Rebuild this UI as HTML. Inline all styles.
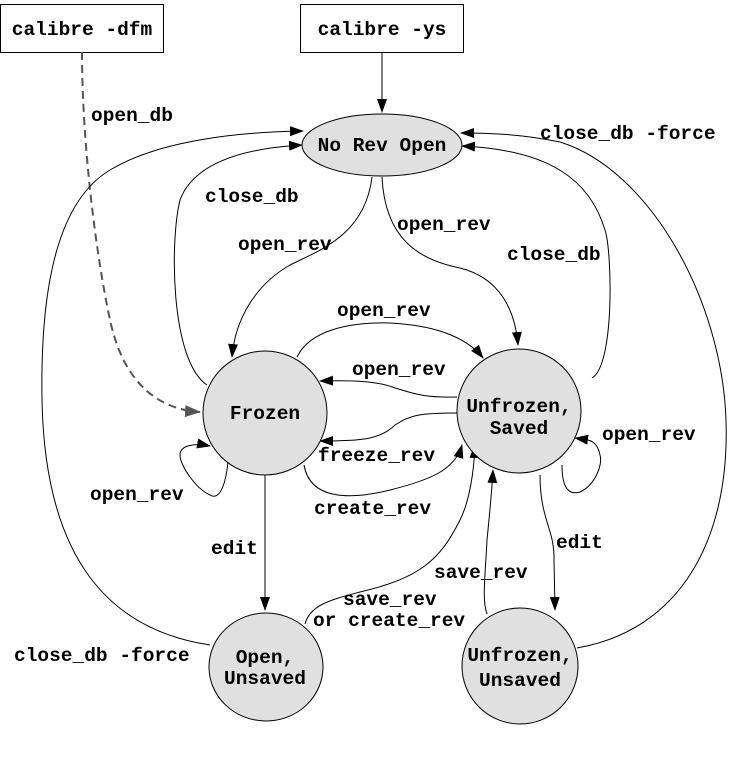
<!DOCTYPE html>
<html><head><meta charset="utf-8"><style>
html,body{margin:0;padding:0;background:#fff;}
svg text{font-family:"Liberation Mono",monospace;font-weight:bold;font-size:19.5px;fill:#000;}
</style></head><body>
<svg width="741" height="759" viewBox="0 0 741 759" xmlns="http://www.w3.org/2000/svg">
<defs>
<marker id="a" markerWidth="14" markerHeight="10" refX="13" refY="5" orient="auto" markerUnits="userSpaceOnUse"><path d="M0,0 L14,5 L0,10 z" fill="#000"/></marker>
<marker id="g" markerWidth="16" markerHeight="12" refX="15" refY="6" orient="auto" markerUnits="userSpaceOnUse"><path d="M0,0 L16,6 L0,12 z" fill="#555"/></marker>
</defs>
<g fill="none" stroke="#000" stroke-width="1">
<rect x="0.5" y="4.5" width="163" height="48"/>
<rect x="300.5" y="4.5" width="163" height="48"/>
<path d="M382,52 L382,112" marker-end="url(#a)"/>
<path d="M82,52 C82,140 95,250 110,320 C125,390 165,410 200,412" stroke="#555" stroke-width="2" stroke-dasharray="8,5" marker-end="url(#g)"/>
<path d="M372,177 C365,235 320,250 290,265 C255,285 235,320 232,357" marker-end="url(#a)"/>
<path d="M382,177 C385,240 420,260 460,268 C500,278 515,310 518,345" marker-end="url(#a)"/>
<path d="M207,385 C170,360 170,240 180,200 C195,160 250,148 302,145" marker-end="url(#a)"/>
<path d="M592,378 C615,365 612,250 605,230 C590,180 550,150 462,146" marker-end="url(#a)"/>
<path d="M210,645 C110,630 45,560 42,400 C40,280 60,200 110,170 C160,140 240,132 303,131" marker-end="url(#a)"/>
<path d="M577,648 C680,630 730,540 726,420 C722,300 650,170 560,142 C520,134 490,133 461,133" marker-end="url(#a)"/>
<path d="M297,357 C310,330 350,322 390,323 C430,325 465,335 483,358" marker-end="url(#a)"/>
<path d="M457,397 C420,398 410,392 395,388 C380,382 360,380 320,381" marker-end="url(#a)"/>
<path d="M457,413 C420,413 410,415 395,425 C380,440 360,441 320,441" marker-end="url(#a)"/>
<path d="M304,465 C310,500 350,500 390,490 C430,480 455,470 462,445" marker-end="url(#a)"/>
<path d="M228,462 C225,490 218,500 210,495 C195,488 180,465 180,455 C180,445 195,443 210,446" marker-end="url(#a)"/>
<path d="M562,465 C562,490 570,495 580,492 C595,485 603,465 600,455 C597,440 590,440 575,438" marker-end="url(#a)"/>
<path d="M265,475 L265,610" marker-end="url(#a)"/>
<path d="M540,475 C540,520 555,530 554,560 L555,610" marker-end="url(#a)"/>
<path d="M487,614 C482,600 485,580 487,540 C490,510 492,490 493,470" marker-end="url(#a)"/>
<path d="M305,624 C310,605 330,600 360,592 C420,578 440,560 460,520 C470,500 474,470 475,445" marker-end="url(#a)"/>
</g>
<g fill="#e0e0e0" stroke="#000" stroke-width="1">
<ellipse cx="382" cy="145" rx="80" ry="31"/>
<circle cx="265" cy="413" r="62"/>
<circle cx="519" cy="411" r="62"/>
<ellipse cx="266" cy="667" rx="57" ry="54"/>
<ellipse cx="520" cy="666" rx="58" ry="58"/>
</g>
<g text-anchor="middle">
<text x="82" y="35">calibre -dfm</text>
<text x="382" y="35">calibre -ys</text>
<text x="382" y="151">No Rev Open</text>
<text x="265" y="419">Frozen</text>
<text x="519" y="412">Unfrozen,</text>
<text x="519" y="434">Saved</text>
<text x="265" y="663">Open,</text>
<text x="265" y="684">Unsaved</text>
<text x="520" y="661">Unfrozen,</text>
<text x="520" y="686">Unsaved</text>
</g>
<text x="91" y="121">open_db</text>
<text x="540" y="139">close_db -force</text>
<text x="205" y="202">close_db</text>
<text x="238" y="250">open_rev</text>
<text x="397" y="230">open_rev</text>
<text x="507" y="260">close_db</text>
<text x="337" y="316">open_rev</text>
<text x="352" y="375">open_rev</text>
<text x="318" y="461">freeze_rev</text>
<text x="602" y="440">open_rev</text>
<text x="90" y="500">open_rev</text>
<text x="314" y="514">create_rev</text>
<text x="211" y="554">edit</text>
<text x="556" y="548">edit</text>
<text x="434" y="578">save_rev</text>
<text x="343" y="605">save_rev</text>
<text x="313" y="626">or create_rev</text>
<text x="14" y="661">close_db -force</text>
</svg>
</body></html>
